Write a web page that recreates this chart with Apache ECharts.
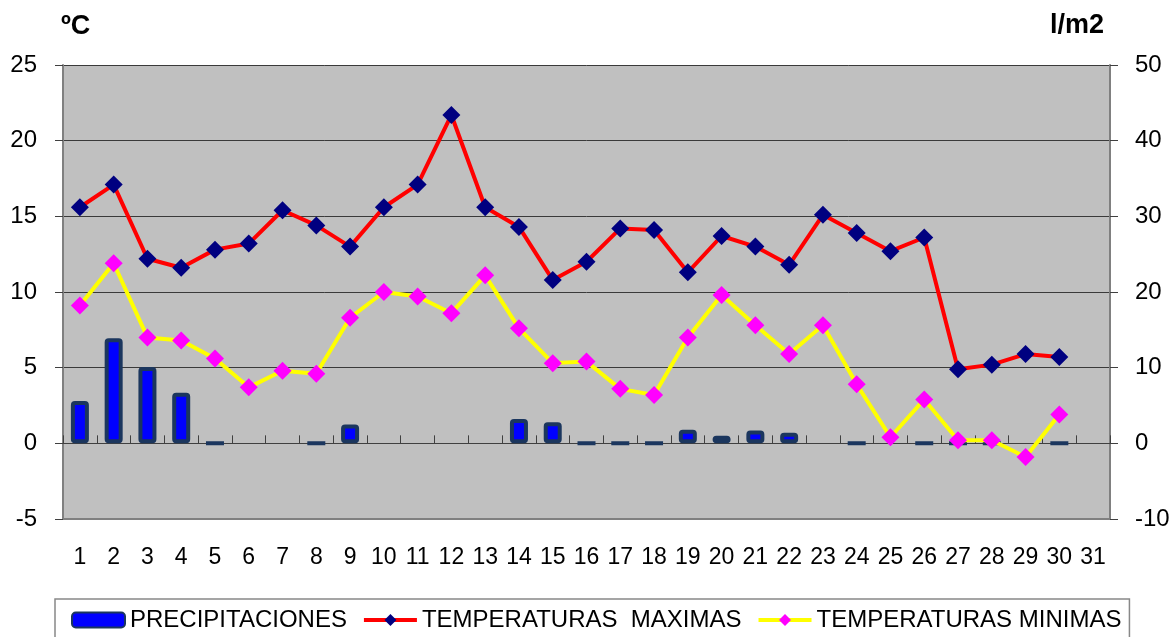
<!DOCTYPE html>
<html>
<head>
<meta charset="utf-8">
<script src="https://cdn.jsdelivr.net/npm/echarts@6/dist/echarts.min.js"></script>
<style>
  html, body { margin: 0; padding: 0; background: #fff; }
  #chart { width: 1174px; height: 637px; }
</style>
</head>
<body>
<div id="chart"></div>
<script>
// --- DATA ---
const days = ['1','2','3','4','5','6','7','8','9','10','11','12','13','14','15','16','17','18','19','20','21','22','23','24','25','26','27','28','29','30','31'];
// l/m2 (right axis); 0 = dry day drawn as a flat bar, null = no bar
const precipitaciones = [5.6, 13.9, 10.1, 6.7, 0, null, null, 0, 2.5, null, null, null, null, 3.2, 2.8, 0, 0, 0, 1.8, 1.0, 1.7, 1.4, null, 0, null, 0, 0, 0, null, 0, null];
// ºC (left axis)
const tempMaximas = [15.6, 17.1, 12.2, 11.6, 12.8, 13.2, 15.4, 14.4, 13.0, 15.6, 17.1, 21.7, 15.6, 14.3, 10.8, 12.0, 14.2, 14.1, 11.3, 13.7, 13.0, 11.8, 15.1, 13.9, 12.7, 13.6, 4.9, 5.2, 5.9, 5.7, null];
const tempMinimas = [9.1, 11.9, 7.0, 6.8, 5.6, 3.7, 4.8, 4.6, 8.3, 10.0, 9.7, 8.6, 11.1, 7.6, 5.3, 5.4, 3.6, 3.2, 7.0, 9.8, 7.8, 5.9, 7.8, 3.9, 0.4, 2.9, 0.2, 0.2, -0.9, 1.9, null];

const FONT = 'Arial, "Liberation Sans", sans-serif';
const titleStyle = { fontFamily: FONT, fontSize: 27, fontWeight: 'bold', color: '#000' };

const chart = echarts.init(document.getElementById('chart'));

const option = {
    animation: false,
    textStyle: { fontFamily: FONT, color: '#000' },
    title: [
        { text: 'ºC', left: 61, top: 13, padding: 0, textStyle: titleStyle },
        { text: 'l/m2', right: 70, top: 12, padding: 0, textStyle: titleStyle }
    ],
    legend: {
        left: 55, top: 599,
        padding: [9, 8, 30, 16],
        itemGap: 15,
        itemWidth: 53, itemHeight: 15,
        borderColor: '#888', borderWidth: 1.5,
        lineStyle: { width: 4 },
        textStyle: { fontFamily: FONT, fontSize: 24, color: '#000' },
        data: [
            { name: 'PRECIPITACIONES', icon: 'roundRect' },
            { name: 'TEMPERATURAS  MAXIMAS' },
            { name: 'TEMPERATURAS MINIMAS' }
        ]
    },
    grid: {
        left: 63, right: 64, top: 65, bottom: 118,
        show: true, backgroundColor: '#C0C0C0', borderWidth: 0
    },
    xAxis: [
        {
            type: 'category', data: days,
            position: 'bottom',
            axisLine: { onZero: false, lineStyle: { color: '#808080', width: 2 } },
            axisTick: { show: false },
            axisLabel: { interval: 0, fontFamily: FONT, fontSize: 23, color: '#000', margin: 27 }
        },
        {
            // axis line + ticks crossing at 0
            type: 'category', data: days,
            position: 'bottom',
            axisLine: { onZero: true, lineStyle: { color: '#404040', width: 1 } },
            axisTick: { show: true, inside: true, length: 8, lineStyle: { color: '#404040' } },
            axisLabel: { show: false }
        }
    ],
    yAxis: [
        {
            type: 'value', min: -5, max: 25, interval: 5,
            axisLine: { show: true, lineStyle: { color: '#808080', width: 2 } },
            axisTick: { show: true, length: 8, lineStyle: { color: '#404040' } },
            axisLabel: { fontFamily: FONT, fontSize: 24, color: '#000', margin: 26 },
            splitLine: { show: true, lineStyle: { color: '#3a3a3a', width: 1 } }
        },
        {
            type: 'value', min: -10, max: 50, interval: 10,
            axisLine: { show: true, lineStyle: { color: '#808080', width: 2 } },
            axisTick: { show: true, length: 8, lineStyle: { color: '#404040' } },
            axisLabel: { fontFamily: FONT, fontSize: 24, color: '#000', margin: 25 },
            splitLine: { show: false }
        }
    ],
    series: [
        {
            name: 'PRECIPITACIONES', type: 'bar',
            xAxisIndex: 0, yAxisIndex: 1,
            data: precipitaciones,
            barWidth: 18,
            itemStyle: { color: '#0000FF', borderColor: '#1B365E', borderWidth: 4, borderRadius: 2 }
        },
        {
            name: 'TEMPERATURAS  MAXIMAS', type: 'line',
            xAxisIndex: 0, yAxisIndex: 0,
            data: tempMaximas,
            symbol: 'diamond', symbolSize: 18,
            lineStyle: { color: '#FF0000', width: 4 },
            itemStyle: { color: '#000080' },
            z: 3
        },
        {
            name: 'TEMPERATURAS MINIMAS', type: 'line',
            xAxisIndex: 0, yAxisIndex: 0,
            data: tempMinimas,
            symbol: 'diamond', symbolSize: 18,
            lineStyle: { color: '#FFFF00', width: 4 },
            itemStyle: { color: '#FF00FF' },
            z: 3
        }
    ]
};

chart.setOption(option);
</script>
</body>
</html>
